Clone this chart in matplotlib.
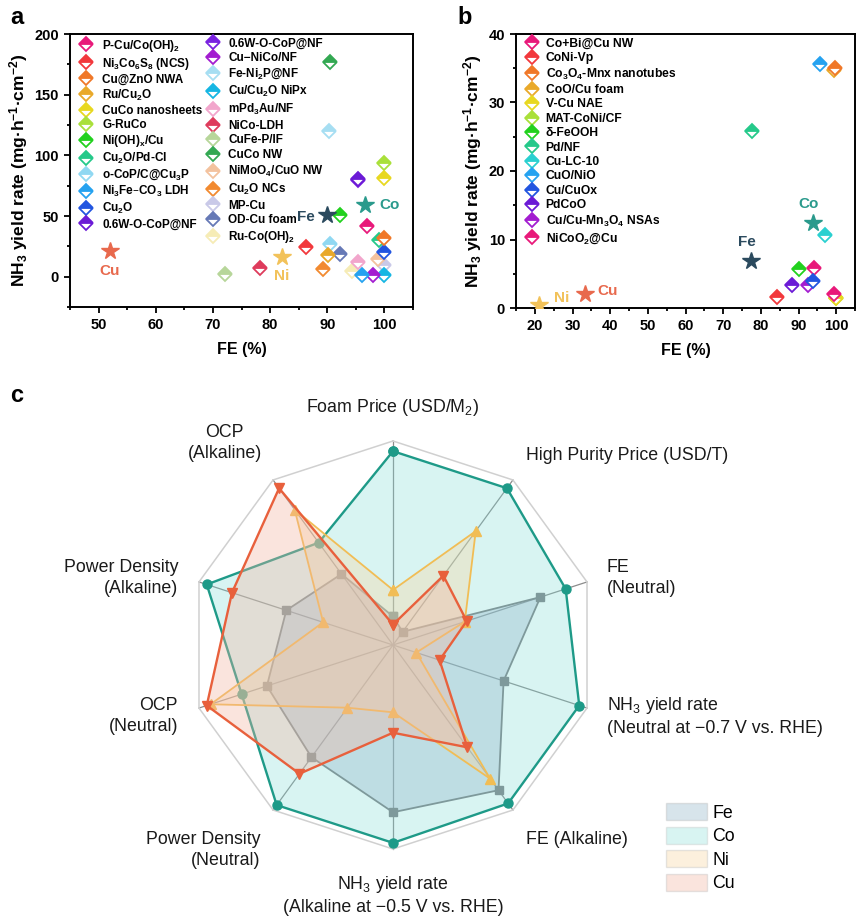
import numpy as np
import matplotlib
matplotlib.use('Agg')
import matplotlib.pyplot as plt
from matplotlib.patches import Patch
from matplotlib.ticker import MultipleLocator

plt.rcParams['font.family'] = ['Liberation Sans', 'DejaVu Sans']
plt.rcParams['mathtext.default'] = 'regular'
NARROW = ['Liberation Sans Narrow', 'Liberation Sans', 'DejaVu Sans']

# ---- panel a : literature catalysts ----
a_names = ['P-Cu/Co(OH)$_2$', 'Ni$_3$Co$_6$S$_8$ (NCS)', 'Cu@ZnO NWA', 'Ru/Cu$_2$O',
           'CuCo nanosheets', 'G-RuCo', 'Ni(OH)$_x$/Cu', 'Cu$_2$O/Pd-Cl',
           'o-CoP/C@Cu$_3$P', 'Ni$_3$Fe–CO$_3$ LDH', 'Cu$_2$O', '0.6W-O-CoP@NF',
           '0.6W-O-CoP@NF', 'Cu−NiCo/NF', 'Fe-Ni$_2$P@NF', 'Cu/Cu$_2$O NiPx',
           'mPd$_3$Au/NF', 'NiCo-LDH', 'CuFe-P/IF', 'CuCo NW', 'NiMoO$_4$/CuO NW',
           'Cu$_2$O NCs', 'MP-Cu', 'OD-Cu foam', 'Ru-Co(OH)$_2$']
a_fe = [97.0, 86.3, 100.0, 90.1, 100.0, 100.0, 92.2, 99.1, 90.4, 96.0, 99.9, 95.4,
        95.3, 98.0, 90.3, 100.0, 95.3, 78.2, 72.2, 90.4, 98.8, 89.2, 100.0, 92.2, 94.4]
a_yield = [42.0, 24.2, 31.5, 17.6, 81.0, 93.7, 50.8, 30.0, 26.6, 1.2, 20.6, 80.5,
           80.0, 1.2, 119.8, 1.2, 12.0, 6.9, 2.3, 176.8, 14.2, 6.1, 9.8, 18.5, 4.5]
a_colors = ['#e8197a', '#f2383c', '#f07828', '#e9a92a', '#e8d820', '#a9e03a', '#22d11e',
            '#25c98a', '#90d8f2', '#25a2f0', '#2255e0', '#6b1ad6', '#7a22e0', '#a31dd0',
            '#a6def2', '#16b6e3', '#f2a6cc', '#de3b5c', '#b7d69a', '#33a852', '#f3c29e',
            '#f28a30', '#c9c9e8', '#6679b6', '#f6ecb6']

# ---- panel b ----
b_names = ['Co+Bi@Cu NW', 'CoNi-Vp', 'Co$_3$O$_4$-Mnx nanotubes', 'CoO/Cu foam', 'V-Cu NAE',
           'MAT-CoNi/CF', 'δ-FeOOH', 'Pd/NF', 'Cu-LC-10', 'CuO/NiO', 'Cu/CuOx', 'PdCoO',
           'Cu/Cu-Mn$_3$O$_4$ NSAs', 'NiCoO$_2$@Cu']
b_fe = [99.4, 84.2, 99.6, 99.5, 100.0, 100.0, 90.2, 77.7, 97.1, 95.7, 93.8, 88.4, 92.4, 94.2]
b_yield = [2.1, 1.6, 35.0, 34.8, 1.5, 1.5, 5.7, 25.8, 10.6, 35.6, 3.9, 3.4, 3.4, 5.9]
b_colors = ['#e8197a', '#f2383c', '#f07828', '#e9a92a', '#e8d820', '#a9e03a', '#22d11e',
            '#25c98a', '#2ad0d0', '#25a2f0', '#2255e0', '#6b1ad6', '#a31dd0', '#e8197a']

# ---- this work (stars) ----
metals = ['Fe', 'Co', 'Ni', 'Cu']
metal_colors = ['#2b4a5e', '#2a9a8c', '#f2c25a', '#e8694d']
star_a_fe = [89.95, 96.6, 82.0, 52.0]
star_a_yield = [50.7, 59.0, 16.4, 20.8]
star_b_fe = [77.3, 93.9, 21.2, 33.3]
star_b_yield = [6.8, 12.4, 0.5, 2.1]
star_a_offsets = [(-15, -1), (18, 0), (0, -14), (0, -14)]
star_b_offsets = [(-3, 14), (-3, 14), (16, 5), (16, 2)]

# ---- panel c : radar ----
radar_labels = ['Foam Price (USD/M$_2$)', 'High Purity Price (USD/T)', 'FE\n(Neutral)',
                'NH$_3$ yield rate\n(Neutral at −0.7 V vs. RHE)', 'FE (Alkaline)',
                'NH$_3$ yield rate\n(Alkaline at −0.5 V vs. RHE)', 'Power Density\n(Neutral)',
                'OCP\n(Neutral)', 'Power Density\n(Alkaline)', 'OCP\n(Alkaline)']
fe_score = [0.14, 0.08, 0.76, 0.57, 0.88, 0.82, 0.68, 0.65, 0.55, 0.43]
co_score = [0.95, 0.95, 0.89, 0.96, 0.96, 0.97, 0.97, 0.78, 0.96, 0.62]
ni_score = [0.27, 0.69, 0.37, 0.12, 0.81, 0.33, 0.38, 0.94, 0.36, 0.82]
cu_score = [0.10, 0.42, 0.38, 0.24, 0.62, 0.43, 0.78, 0.96, 0.83, 0.95]

W, H = 865, 923
fig = plt.figure(figsize=(W / 100, H / 100), dpi=100)


def box(l, t, r, b):
    return [l / W, 1 - b / H, (r - l) / W, (b - t) / H]


def fxy(x, y):
    return x / W, 1 - y / H


def diamonds(ax, xs, ys, colors, names):
    handles = []
    for x, y, c, n in reversed(list(zip(xs, ys, colors, names))):
        h, = ax.plot(x, y, ls='none', marker='D', ms=7, mew=1.3, mfc=c, mec=c,
                     mfcalt='white', fillstyle='top', label=n, zorder=3)
        handles.append(h)
    return handles[::-1]


def stars(ax, xs, ys, offsets):
    for x, y, c, m, off in zip(xs, ys, metal_colors, metals, offsets):
        ax.plot(x, y, ls='none', marker='*', ms=13, color=c, mec=c, zorder=4)
        ax.annotate(m, (x, y), xytext=off, textcoords='offset points', color=c,
                    fontsize=11, fontweight='bold', ha='center', va='center')


def style(ax):
    for s in ax.spines.values():
        s.set_linewidth(1.4)
    ax.tick_params(which='both', direction='out', top=False, right=False, width=1.3)
    ax.tick_params(which='major', length=4.5)
    ax.tick_params(which='minor', length=2.5)
    for lab in ax.get_xticklabels() + ax.get_yticklabels():
        lab.set_fontweight('bold')
        lab.set_family(NARROW)
        lab.set_fontsize(10.5)
    ax.set_xlabel('FE (%)', fontsize=11.5, fontweight='bold', family=NARROW, labelpad=7)
    ax.set_ylabel('NH$_3$ yield rate (mg·h$^{-1}$·cm$^{-2}$)', fontsize=12.5,
                  fontweight='bold', family=NARROW, labelpad=3)


# panel a
ax_a = fig.add_axes(box(70, 34, 413, 307))
ha = diamonds(ax_a, a_fe, a_yield, a_colors, a_names)
stars(ax_a, star_a_fe, star_a_yield, star_a_offsets)
ax_a.set_xlim(45, 105)
ax_a.set_ylim(-25, 200)
ax_a.xaxis.set_major_locator(MultipleLocator(10))
ax_a.xaxis.set_minor_locator(MultipleLocator(5))
ax_a.yaxis.set_major_locator(MultipleLocator(50))
ax_a.yaxis.set_minor_locator(MultipleLocator(25))
style(ax_a)
leg_kw = dict(loc='upper left', frameon=False, prop=dict(weight='bold', size=8.5),
              handlelength=1.0, handletextpad=0.85, labelspacing=0.17,
              borderaxespad=0, borderpad=0.3, numpoints=1)
leg1 = ax_a.legend(handles=ha[:12], bbox_to_anchor=(0.02, 1.0), **leg_kw)
ax_a.add_artist(leg1)
leg_kw['labelspacing'] = 0.23
ax_a.legend(handles=ha[12:], bbox_to_anchor=(0.388, 1.0), **leg_kw)

# panel b
ax_b = fig.add_axes(box(516, 34, 855, 308))
hb = diamonds(ax_b, b_fe, b_yield, b_colors, b_names)
stars(ax_b, star_b_fe, star_b_yield, star_b_offsets)
ax_b.set_xlim(15, 105)
ax_b.set_ylim(0, 40)
ax_b.xaxis.set_major_locator(MultipleLocator(10))
ax_b.xaxis.set_minor_locator(MultipleLocator(5))
ax_b.yaxis.set_major_locator(MultipleLocator(10))
ax_b.yaxis.set_minor_locator(MultipleLocator(5))
style(ax_b)
leg_kw['labelspacing'] = 0.2
leg_kw['handletextpad'] = 0.6
leg_kw['prop'] = dict(weight='bold', size=8.7)
ax_b.legend(handles=hb, bbox_to_anchor=(0.02, 1.0), **leg_kw)

# panel c : radar drawn in cartesian axes
R_LIM = 220 / 204
ax_c = fig.add_axes(box(173, 425, 613, 865))
ax_c.set_xlim(-R_LIM, R_LIM)
ax_c.set_ylim(-R_LIM, R_LIM)
ax_c.set_aspect('equal')
ax_c.axis('off')
n = len(radar_labels)
ang = np.arange(n) * 2 * np.pi / n
vx, vy = np.sin(ang), np.cos(ang)
for x, y in zip(vx, vy):
    ax_c.plot([0, x], [0, y], color='#8c8c8c', lw=0.9, zorder=1)
ax_c.plot(np.append(vx, vx[0]), np.append(vy, vy[0]), color='#d0d0d0', lw=1.1, zorder=1)

series = [
    ('Fe', fe_score, '#7e999b', '#96b8cc', 0.38, 's', 5.5, 1.3),
    ('Co', co_score, '#1e9a88', '#7fdcd6', 0.30, 'o', 6.5, 1.7),
    ('Ni', ni_score, '#f1bd55', '#f8d6a0', 0.35, '^', 6.5, 1.3),
    ('Cu', cu_score, '#e8603c', '#f3b3a0', 0.35, 'v', 6.5, 1.7),
]
draw_order = ['Co', 'Fe', 'Ni', 'Cu']
for name in draw_order:
    _, vals, lc, fc, al, mk, ms, lw = [s for s in series if s[0] == name][0]
    r = np.array(vals)
    xs, ys = r * vx, r * vy
    ax_c.fill(xs, ys, color=fc, alpha=al, lw=0, zorder=2)
    ax_c.plot(np.append(xs, xs[0]), np.append(ys, ys[0]), color=lc, lw=lw,
              marker=mk, ms=ms, zorder=2)

label_pos = [(393, 408, 'center', 'center'), (526, 455, 'left', 'center'),
             (607, 578, 'left', 'center'), (607, 716, 'left', 'center'),
             (526, 839, 'left', 'center'), (393, 895, 'center', 'center'),
             (260, 850, 'right', 'center'), (178, 716, 'right', 'center'),
             (178, 578, 'right', 'center'), (262, 443, 'right', 'center')]
aligns = ['center', 'left', 'left', 'left', 'left', 'center', 'right', 'right', 'right', 'center']
for lab, (x, y, h, v), ma in zip(radar_labels, label_pos, aligns):
    fig.text(*fxy(x, y), lab, ha=h, va=v, multialignment=ma, fontsize=12.8,
             color='#1a1a1a', linespacing=1.3)

fig.legend(handles=[Patch(facecolor=s[3], alpha=s[4], edgecolor='#b8b8b8', lw=1.0, label=s[0])
                    for s in series],
           loc='upper left', bbox_to_anchor=fxy(666, 803), frameon=False, fontsize=12.8,
           handlelength=2.3, handleheight=1.1, handletextpad=0.3, labelspacing=0.28,
           borderpad=0, borderaxespad=0)

for t, (x, y) in zip('abc', [(10, 18), (457, 18), (10, 395)]):
    fig.text(*fxy(x, y), t, fontsize=17, fontweight='bold', ha='left', va='center')

fig.savefig('out.png', dpi=100)
